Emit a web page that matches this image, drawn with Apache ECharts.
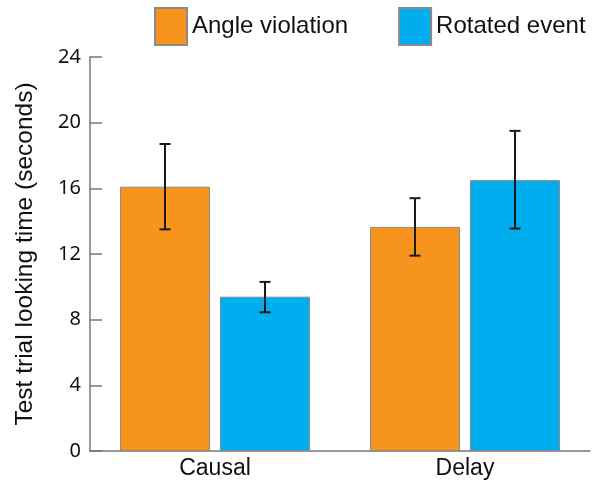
<!DOCTYPE html>
<html>
<head>
<meta charset="utf-8">
<script src="https://cdn.jsdelivr.net/npm/echarts@6/dist/echarts.min.js"></script>
<style>html,body{margin:0;padding:0;background:#fff}#c{width:598px;height:480px}</style>
</head>
<body>
<div id="c"></div>
<script>
const categories = ['Causal', 'Delay'];
const seriesNames = ['Angle violation', 'Rotated event'];
const angleValues = [16.1, 13.65];
const angleLow = [13.5, 11.9];
const angleHigh = [18.7, 15.4];
const rotatedValues = [9.4, 16.5];
const rotatedLow = [8.45, 13.55];
const rotatedHigh = [10.3, 19.5];
const yTicks = [0, 4, 8, 12, 16, 20, 24];

const colors = ['#F7941D', '#00AEEF'];
const chart = echarts.init(document.getElementById('c'));

function errData(low, high) {
  return categories.map((c, i) => [i, low[i], high[i]]);
}
function errSeries(name, low, high, dir) {
  return {
    type: 'custom',
    name: name + ' err',
    data: errData(low, high),
    z: 10,
    silent: true,
    renderItem: function (params, api) {
      const band = api.size([1, 0])[0];
      const off = dir * 0.2 * band;
      const pLow = api.coord([api.value(0), api.value(1)]);
      const pHigh = api.coord([api.value(0), api.value(2)]);
      const x = pLow[0] + off;
      const hw = 5.5;
      const st = { stroke: '#1a1a1a', lineWidth: 2 };
      return {
        type: 'group',
        children: [
          { type: 'line', shape: { x1: x, y1: pLow[1], x2: x, y2: pHigh[1] }, style: st },
          { type: 'line', shape: { x1: x - hw, y1: pLow[1], x2: x + hw, y2: pLow[1] }, style: st },
          { type: 'line', shape: { x1: x - hw, y1: pHigh[1], x2: x + hw, y2: pHigh[1] }, style: st }
        ]
      };
    }
  };
}

chart.setOption({
  animation: false,
  legend: {
    data: seriesNames,
    left: 154,
    top: 7,
    padding: 0,
    itemWidth: 32,
    itemHeight: 37,
    itemGap: 50,
    icon: 'rect',
    textStyle: { fontFamily: 'Liberation Sans', fontSize: 24, color: '#111' }
  },
  grid: { left: 90, right: 8, top: 57, bottom: 28 },
  xAxis: {
    type: 'category',
    data: categories,
    axisLine: { lineStyle: { color: '#777', width: 1.5 } },
    axisTick: { inside: true, length: 9, lineStyle: { color: '#777', width: 1.5 } },
    axisLabel: { fontFamily: 'Liberation Sans', fontSize: 23, color: '#111', margin: 6 }
  },
  yAxis: {
    type: 'value',
    min: yTicks[0],
    max: yTicks[yTicks.length - 1],
    interval: 4,
    name: 'Test trial looking time (seconds)',
    nameLocation: 'middle',
    nameGap: 52,
    nameTextStyle: { fontFamily: 'Liberation Sans', fontSize: 24.5, color: '#111' },
    splitLine: { show: false },
    axisLine: { show: true, lineStyle: { color: '#777', width: 1.5 } },
    axisTick: { show: true, inside: true, length: 12, lineStyle: { color: '#777', width: 1.5 } },
    axisLabel: { fontFamily: 'Noto Sans', fontSize: 20, color: '#111', margin: 9 }
  },
  series: [
    {
      type: 'bar',
      name: seriesNames[0],
      data: angleValues,
      barWidth: '36%',
      barGap: '11%',
      itemStyle: { color: colors[0], borderColor: '#8a8a8a', borderWidth: 1 }
    },
    {
      type: 'bar',
      name: seriesNames[1],
      data: rotatedValues,
      barWidth: '36%',
      barGap: '11%',
      itemStyle: { color: colors[1], borderColor: '#8a8a8a', borderWidth: 1 }
    },
    errSeries(seriesNames[0], angleLow, angleHigh, -1),
    errSeries(seriesNames[1], rotatedLow, rotatedHigh, 1)
  ]
});
</script>
</body>
</html>
